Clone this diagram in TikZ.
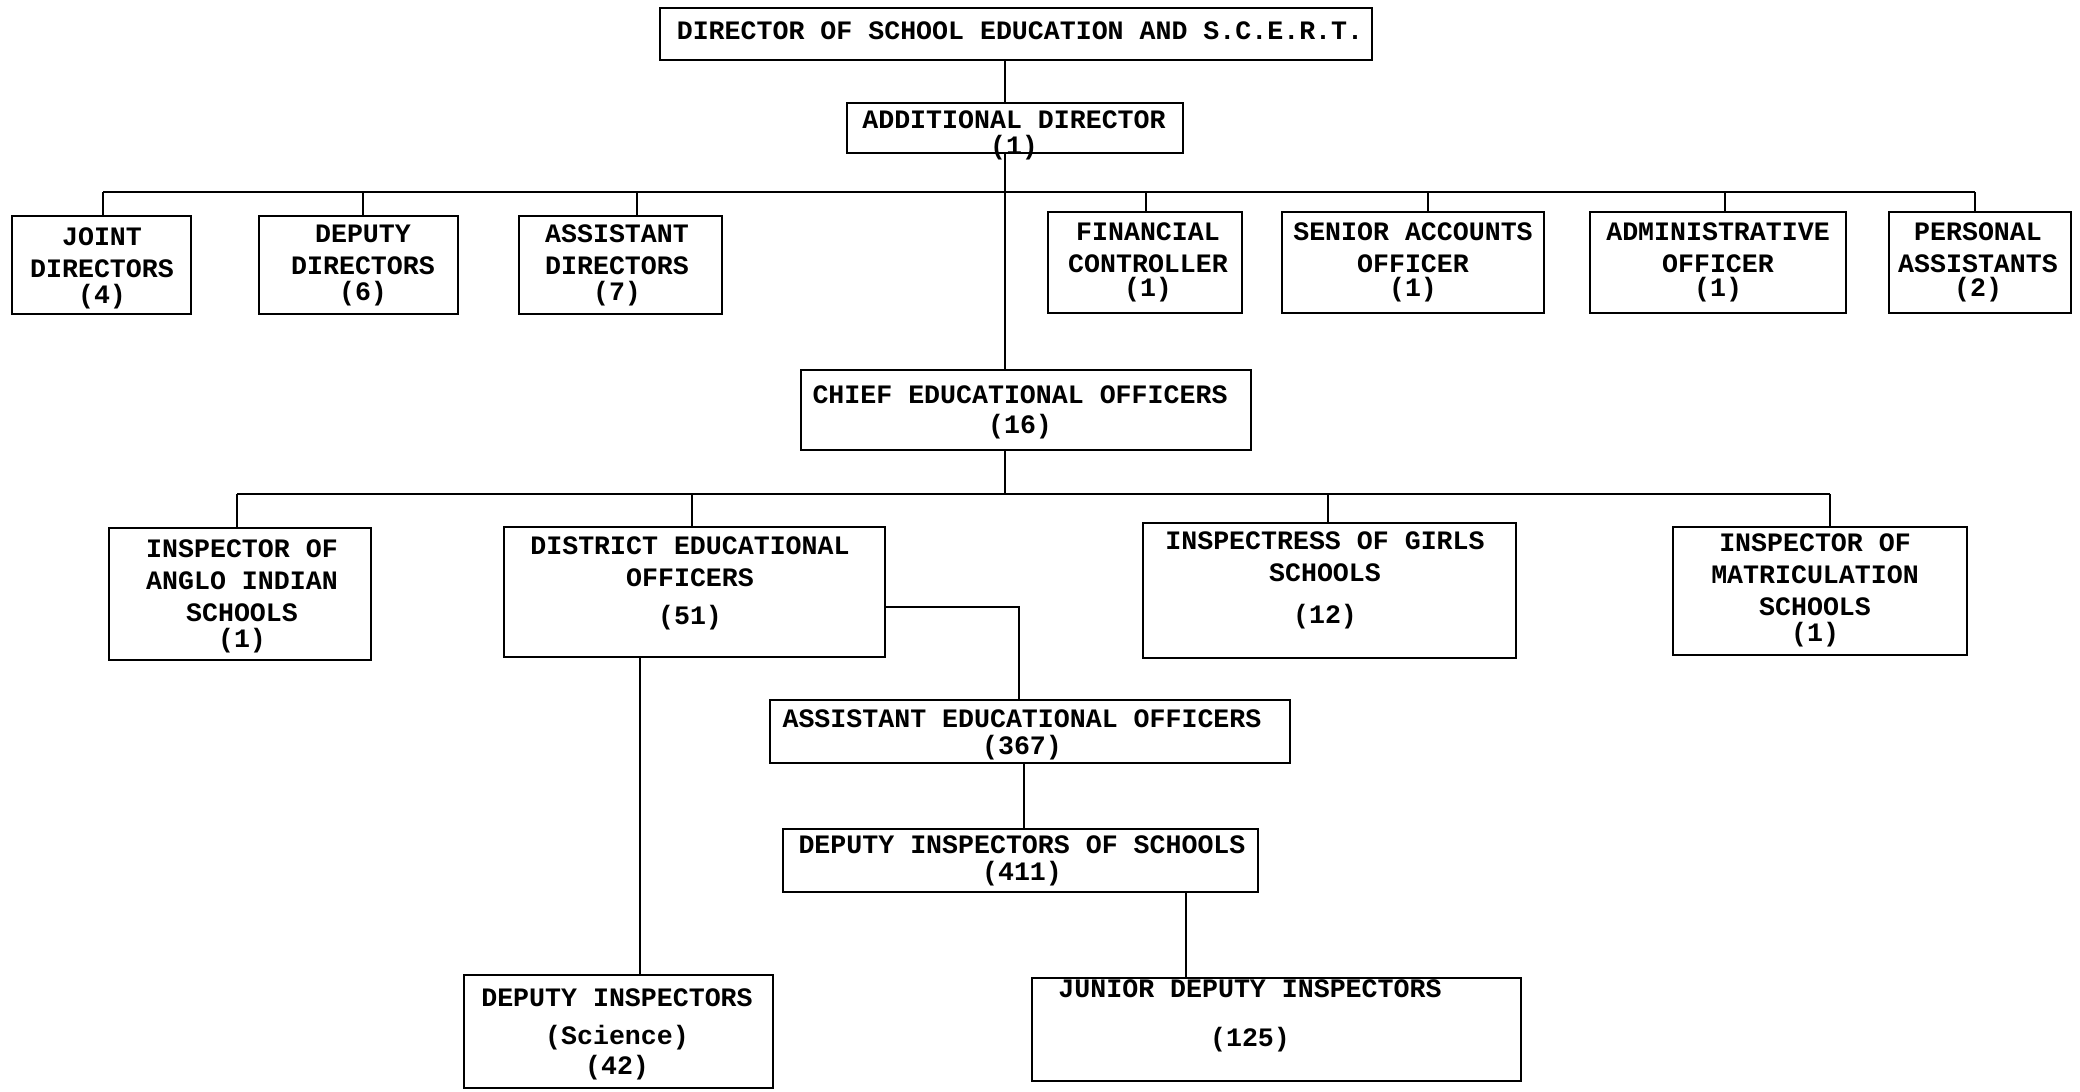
\documentclass[tikz,border=0pt]{standalone}
\usepackage{fontspec}
\setmainfont{Liberation Mono}
\usetikzlibrary{fit}
\begin{document}
\begin{tikzpicture}[x=0.5pt,y=-0.5pt,
  box/.style={draw, line width=1.3pt, inner sep=0pt},
  lbl/.style={align=center, inner sep=0pt, font=\bfseries\fontsize{13.3}{16}\selectfont},
  link/.style={line width=1.3pt}]
\useasboundingbox (0,0) rectangle (2080,1091);
% boxes
\node[box, fit={(660,8) (1372,60)}] (dir) {};
\node[box, fit={(847,103) (1183,153)}] (add) {};
\node[box, fit={(12,216) (191,314)}] (joint) {};
\node[box, fit={(259,216) (458,314)}] (dep) {};
\node[box, fit={(519,216) (722,314)}] (asst) {};
\node[box, fit={(1048,212) (1242,313)}] (fin) {};
\node[box, fit={(1282,212) (1544,313)}] (sao) {};
\node[box, fit={(1590,212) (1846,313)}] (ao) {};
\node[box, fit={(1889,212) (2071,313)}] (pa) {};
\node[box, fit={(801,370) (1251,450)}] (ceo) {};
\node[box, fit={(109,528) (371,660)}] (anglo) {};
\node[box, fit={(504,527) (885,657)}] (deo) {};
\node[box, fit={(1143,523) (1516,658)}] (girls) {};
\node[box, fit={(1673,527) (1967,655)}] (matric) {};
\node[box, fit={(770,700) (1290,763)}] (aeo) {};
\node[box, fit={(783,829) (1258,892)}] (dis) {};
\node[box, fit={(464,975) (773,1088)}] (dsci) {};
\node[box, fit={(1032,978) (1521,1081)}] (jdi) {};
% labels
\node[lbl] (dir-t) at (1020,31) {DIRECTOR OF SCHOOL EDUCATION AND S.C.E.R.T.};
\node[lbl] (add-t) at (1014,135) {ADDITIONAL DIRECTOR\\[-3pt](1)};
\node[lbl] (joint-t) at (102,268) {JOINT\\DIRECTORS\\[-3pt](4)};
\node[lbl] (dep-t) at (363,265) {DEPUTY\\DIRECTORS\\[-3pt](6)};
\node[lbl] (asst-t) at (617,265) {ASSISTANT\\DIRECTORS\\[-3pt](7)};
\node[lbl] (fin-t) at (1148,262) {FINANCIAL\\CONTROLLER\\[-4pt](1)};
\node[lbl] (sao-t) at (1413,262) {SENIOR ACCOUNTS\\OFFICER\\[-4pt](1)};
\node[lbl] (ao-t) at (1718,262) {ADMINISTRATIVE\\OFFICER\\[-4pt](1)};
\node[lbl] (pa-t) at (1978,262) {PERSONAL\\ASSISTANTS\\[-4pt](2)};
\node[lbl] (ceo-t) at (1020,412) {CHIEF EDUCATIONAL OFFICERS\\[-1pt](16)};
\node[lbl] (anglo-t) at (242,596) {INSPECTOR OF\\ANGLO INDIAN\\SCHOOLS\\[-3pt](1)};
\node[lbl] (deo-t) at (690,583) {DISTRICT EDUCATIONAL\\OFFICERS\\[3pt](51)};
\node[lbl] (girls-t) at (1325,580) {INSPECTRESS OF GIRLS\\SCHOOLS\\[5pt](12)};
\node[lbl] (matric-t) at (1815,590) {INSPECTOR OF\\MATRICULATION\\SCHOOLS\\[-3pt](1)};
\node[lbl] (aeo-t) at (1022,735) {ASSISTANT EDUCATIONAL OFFICERS\\[-2.5pt](367)};
\node[lbl] (dis-t) at (1022,861) {DEPUTY INSPECTORS OF SCHOOLS\\[-2.5pt](411)};
\node[lbl] (dsci-t) at (617,1034) {DEPUTY INSPECTORS\\[3pt](Science)\\[-1pt](42)};
\node[lbl] (jdi-t) at (1250,1016) {JUNIOR DEPUTY INSPECTORS\\[8.5pt](125)};
% junction coordinates
\coordinate (b1) at (1005,192);
\coordinate (b2) at (1005,494);
\coordinate (dj) at (103,192);
\coordinate (dd) at (363,192);
\coordinate (da) at (637,192);
\coordinate (df) at (1146,192);
\coordinate (ds) at (1428,192);
\coordinate (dao) at (1725,192);
\coordinate (dp) at (1975,192);
\coordinate (ga) at (237,494);
\coordinate (gd) at (692,494);
\coordinate (gg) at (1328,494);
\coordinate (gm) at (1830,494);
\coordinate (k1) at (1019,607);
% connectors
\draw[link] (dir.south -| b1) -- (add.north -| b1);
\draw[link] (add.south -| b1) -- (ceo.north -| b1);
\draw[link] (dj) -- (dp);
\draw[link] (dj) -- (dj |- joint.north);
\draw[link] (dd) -- (dd |- dep.north);
\draw[link] (da) -- (da |- asst.north);
\draw[link] (df) -- (df |- fin.north);
\draw[link] (ds) -- (ds |- sao.north);
\draw[link] (dao) -- (dao |- ao.north);
\draw[link] (dp) -- (dp |- pa.north);
\draw[link] (ceo.south -| b2) -- (b2);
\draw[link] (ga) -- (gm);
\draw[link] (ga) -- (ga |- anglo.north);
\draw[link] (gd) -- (gd |- deo.north);
\draw[link] (gg) -- (gg |- girls.north);
\draw[link] (gm) -- (gm |- matric.north);
\draw[link] (k1 -| deo.east) -- (k1) -- (k1 |- aeo.north);
\draw[link] (deo.south -| 640,0) -- (dsci.north -| 640,0);
\draw[link] (aeo.south -| 1024,0) -- (dis.north -| 1024,0);
\draw[link] (dis.south -| 1186,0) -- (jdi.north -| 1186,0);
\end{tikzpicture}
\end{document}
